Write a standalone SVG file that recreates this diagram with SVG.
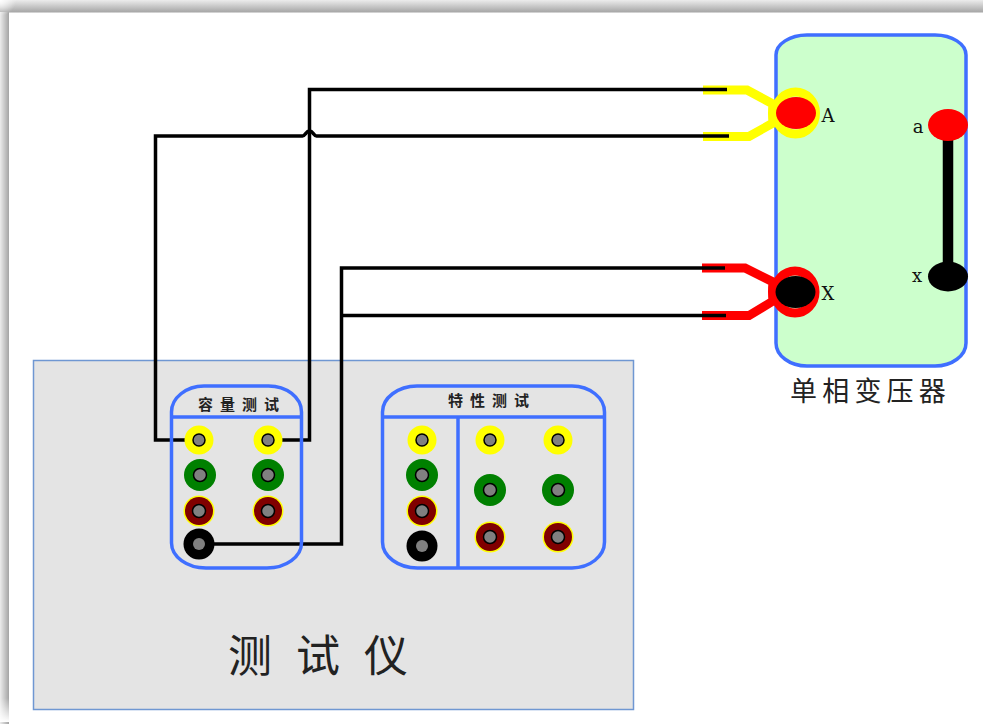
<svg xmlns="http://www.w3.org/2000/svg" width="983" height="724" viewBox="0 0 983 724">
<style>
.wire{fill:none;stroke:#000;stroke-width:3.500}
.panel{fill:none;stroke:#3f6fff;stroke-width:3.500}
.cjk{font-family:"Noto Sans CJK SC","Noto Sans CJK TC",sans-serif;fill:#222}
.lab{font-family:"DejaVu Serif",serif;font-size:18px;fill:#111;text-anchor:middle}
.core{fill:#808080;stroke:#000;stroke-width:1.500}
</style>
<defs>
<linearGradient id="top" x1="0" y1="0" x2="0" y2="1"><stop offset="0" stop-color="#ececec"/><stop offset="1" stop-color="#a4a4a4"/></linearGradient>
<linearGradient id="left" x1="0" y1="0" x2="1" y2="0"><stop offset="0" stop-color="#ececec"/><stop offset="1" stop-color="#a4a4a4"/></linearGradient>
<linearGradient id="fadeB" x1="0" y1="0" x2="0" y2="1"><stop offset="0" stop-color="#fff" stop-opacity="0"/><stop offset="1" stop-color="#fff"/></linearGradient>
<radialGradient id="fadeC" gradientUnits="userSpaceOnUse" cx="0" cy="0" r="16"><stop offset="0" stop-color="#fff"/><stop offset="1" stop-color="#fff" stop-opacity="0"/></radialGradient>
<g id="ty"><circle r="14.500" fill="#ffff00"/><circle r="6" class="core"/></g>
<g id="tg"><circle r="16" fill="#008000"/><circle r="6.500" class="core"/></g>
<g id="tr"><circle r="15.500" fill="#ffff00"/><circle r="14" fill="#800000"/><circle r="6.500" class="core"/></g>
<g id="tk"><circle r="15.500" fill="#000"/><circle r="6" fill="#808080"/></g>
</defs>
<rect width="983" height="724" fill="#fff"/>
<rect width="983" height="12.500" fill="url(#top)"/>
<rect y="12" width="9" height="712" fill="url(#left)"/>
<rect y="698" width="9" height="24" fill="url(#fadeB)"/>
<rect width="16" height="16" fill="url(#fadeC)"/>
<g id="tester">
<rect x="33.500" y="360.500" width="600" height="349" fill="#e4e4e4" stroke="#6f97d2" stroke-width="1.500"/>
<text class="cjk" x="228" y="672" font-size="44" letter-spacing="24" fill="#444">测试仪</text>
</g>
<g id="transformer">
<path d="M776,55A31,20 0 0 1 807,35H935A31,20 0 0 1 966,55V343A31,23 0 0 1 935,366H807A31,23 0 0 1 776,343Z" fill="#ccffcc" stroke="#3f6fff" stroke-width="3.500"/>
<text class="cjk" x="790" y="401" font-size="27" letter-spacing="5.200">单相变压器</text>
</g>
<g id="link-a-x"><line x1="948" y1="125" x2="948" y2="276" stroke="#000" stroke-width="10.500"/></g>
<g id="connectors">
<path class="wire" d="M727,89.500H309.500V440H268"/>
<path class="wire" d="M727,136H316.500C314,136 313,131 309.500,131C306,131 305,136 302.500,136H155.500V440H186"/>
<path class="wire" d="M727,268H341.500V544H199"/>
<path class="wire" d="M727,315.500H341.500"/>
</g>
<g id="clip-A">
<path d="M703,90H747L773,104Q772,113 773,123L749,136.500H703" fill="none" stroke="#ff0" stroke-width="9"/>
<ellipse cx="795.500" cy="113" rx="20" ry="21" fill="none" stroke="#ff0" stroke-width="9"/>
<path d="M703,89.500H727M703,136H729" stroke="#000" stroke-width="3.500"/>
</g>
<g id="clip-X">
<path d="M702,268H745L773,282Q772,292 773,301L749,315.500H702" fill="none" stroke="#f00" stroke-width="9"/>
<ellipse cx="795" cy="292" rx="20" ry="21" fill="none" stroke="#f00" stroke-width="9"/>
<path d="M702,268H725M702,315.500H726" stroke="#000" stroke-width="3.500"/>
</g>
<g id="term-A"><ellipse cx="796" cy="113" rx="20" ry="16" fill="#f00"/><text class="lab" x="828" y="122">A</text></g>
<g id="term-X"><ellipse cx="795.500" cy="292" rx="20" ry="16" fill="#000"/><text class="lab" x="828" y="300">X</text></g>
<g id="term-a"><ellipse cx="948" cy="125" rx="20" ry="16" fill="#f00"/><text class="lab" x="918" y="133">a</text></g>
<g id="term-x"><ellipse cx="948" cy="276.500" rx="20" ry="15" fill="#000"/><text class="lab" x="917" y="282">x</text></g>
<g id="panel-capacity">
<path class="panel" d="M171.500,417V543A35,25 0 0 0 206,568H267A35,25 0 0 0 301.500,543V417V412A33,26 0 0 0 268,386H204A33,26 0 0 0 171.500,412ZM171.500,417H301.500"/>
<text class="cjk" x="198" y="410" font-size="15" font-weight="700" letter-spacing="7" fill="#000">容量测试</text>
<use href="#ty" x="199" y="440"/><use href="#ty" x="268" y="440"/>
<use href="#tg" x="200" y="475"/><use href="#tg" x="268" y="475"/>
<use href="#tr" x="199" y="511"/><use href="#tr" x="268" y="511"/>
<use href="#tk" x="199" y="544"/>
</g>
<g id="panel-characteristic">
<path class="panel" d="M382.500,417V542A35,26 0 0 0 418,568H572A33,26 0 0 0 604.500,542V412A33,26 0 0 0 572,386H417A35,26 0 0 0 382.500,412ZM382.500,417H604.500M458,417V568"/>
<text class="cjk" x="448" y="406" font-size="15" font-weight="700" letter-spacing="7" fill="#000">特性测试</text>
<use href="#ty" x="422" y="440"/><use href="#tg" x="422" y="475"/><use href="#tr" x="422" y="511"/><use href="#tk" x="422" y="546"/>
<use href="#ty" x="490" y="440"/><use href="#ty" x="558" y="440"/>
<use href="#tg" x="490" y="490"/><use href="#tg" x="558" y="490"/>
<use href="#tr" x="490" y="537"/><use href="#tr" x="558" y="537"/>
</g>
</svg>
